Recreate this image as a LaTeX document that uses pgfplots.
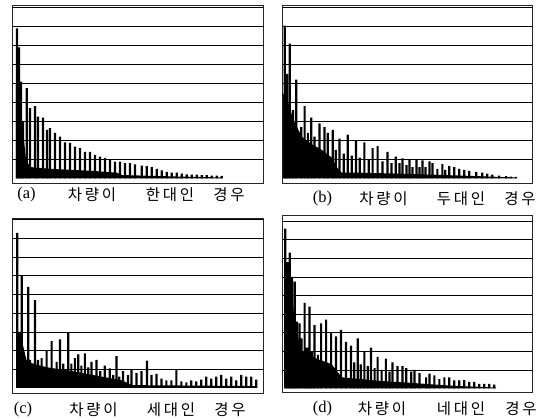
\documentclass[border=0pt]{standalone}
\usepackage{pgfplots}
\pgfplotsset{compat=1.18}
\usepackage{fontspec}
\setmainfont{Liberation Serif}
\newfontfamily\kr{Noto Sans CJK KR}[LetterSpace=18]
\pgfplotsset{
  panel/.style={
    scale only axis, xmin=0, xmax=251,
    xtick=\empty, ytick={1,...,9}, yticklabels={}, major tick length=0pt,
    ymajorgrids, grid style={black, line width=0.7pt},
    axis line style={black!85, line width=0.5pt},
    clip=true, anchor=south west,
  },
  spikes/.style={ybar, bar width=2.2pt, fill=black, draw=none},
  base/.style={fill=black, draw=none},
}
\newcommand{\krf}{\kr\fontsize{15.5}{18}\selectfont}
\newcommand{\pcap}[5]{%
  \node[font=\fontsize{16.5}{18}\selectfont] at (#1pt,#5pt) {(#2)};
  \node[font=\krf] at (#3pt,#5pt) {#4};
}
\begin{document}
\begin{tikzpicture}
\path[use as bounding box] (0pt,0pt) rectangle (550pt,420pt);
% (a)
\begin{axis}[panel, at={(12pt,237pt)}, width=251pt, height=178pt, ymin=-0.24, ymax=9.13]
\addplot[base] coordinates {(4,0) (4,5.0) (8,4.0) (11,2.5) (14,1.0) (18,0.6) (40,0.5) (80,0.4) (105,0.3) (110,0.18) (150,0.12) (210,0.05) (210,0)};
\addplot[spikes] coordinates {
(5,7.9) (7,6.9) (9,5.1) (11,3.0) (14.7,4.75) (18,3.7) (23,3.8) (26,3.25) (31,3.2) (35,2.55) (38,2.65)
(43,2.4) (48,2.2) (53,1.9) (58,1.87) (63,1.67) (68,1.6) (73,1.4) (78,1.4) (83,1.24) (88,1.15)
(93,1.08) (98,0.97) (103,0.88) (108,0.88) (113,0.8) (118,0.8) (123,0.74) (129.7,0.68) (134.7,0.65)
(139.7,0.6) (144.7,0.5) (149.7,0.42) (154.7,0.35) (159.7,0.3) (164.7,0.3) (169.7,0.25) (174.7,0.22)
(179.7,0.2) (184.7,0.2) (189.7,0.18) (194.7,0.17) (199.7,0.15) (204.7,0.15) (209.7,0.13)};
\end{axis}
% (b)
\begin{axis}[panel, at={(282pt,237pt)}, width=250pt, height=178pt, ymin=-0.24, ymax=9.13]
\addplot[base] coordinates {(1,0) (1,4.5) (6,4.0) (12,3.0) (20,2.2) (30,1.8) (40,1.5) (50,1.1) (55,0.6) (60,0.3) (80,0.3) (120,0.25) (180,0.15) (235,0.05) (235,0)};
\addplot[spikes] coordinates {
(2.7,8.05) (5,5.5) (7.7,7.1) (11,3.6) (14.3,5.2) (19.3,2.7) (22.7,3.8) (26,2.4) (29.3,3.2) (32.7,2.2)
(37.7,2.9) (42.7,2.7) (46,2.4) (51,2.55) (54,1.5) (57.7,2.1) (62,1.3) (66,2.3) (70,1.2) (74.3,2.0)
(78,1.1) (82.7,1.9) (87,1.0) (91,1.6) (96,1.7) (101,0.9) (106,1.4) (110,0.8) (114.3,1.15) (118,0.8)
(121,1.05) (125,0.7) (128,1.0) (131,0.6) (135,1.0) (138,0.6) (141,0.95) (144,0.6) (148,0.9)
(151,0.8) (156,0.5) (161,0.75) (164,0.45) (168,0.65) (173,0.6) (178,0.5) (183,0.45) (188,0.4)
(195,0.35) (201,0.3) (206,0.25) (211,0.2) (218,0.15) (225,0.12) (230,0.1) (235,0.08)};
\end{axis}
% (c)
\begin{axis}[panel, at={(12.5pt,27pt)}, width=250.5pt, height=175pt, ymin=-0.27, ymax=9.09]
\addplot[base] coordinates {(4,0) (4,2.6) (10,2.4) (14,1.5) (20,1.3) (35,1.1) (60,0.9) (90,0.6) (110,0.4) (120,0.15) (245,0.1) (245,0)};
\addplot[spikes] coordinates {
(4.8,8.3) (7,3.0) (9.2,6.0) (12.5,1.4) (15.8,5.4) (17.5,1.5) (20,1.3) (22.5,4.7) (25.5,1.5) (29.2,1.6)
(34.2,2.0) (39.2,2.5) (44.2,1.4) (47.5,2.6) (50.8,1.3) (55.8,2.95) (59,1.3) (62.5,1.6) (65.8,1.8)
(69,1.2) (72.5,1.85) (76,1.1) (79.2,1.4) (84.2,1.5) (88,0.9) (92.5,1.2) (97.5,1.05) (101,0.7)
(104.2,1.7) (107,0.6) (110.8,0.9) (115.8,0.7) (119.2,0.96) (124.2,0.8) (129.2,0.9) (134.8,1.46)
(139.2,0.7) (144.2,0.75) (149.2,0.5) (154.2,0.4) (159.2,0.4) (164.2,1.0) (169.2,0.35) (174.2,0.3)
(179.2,0.4) (184.2,0.35) (189.2,0.45) (194.2,0.6) (199.2,0.5) (204.2,0.6) (209.2,0.7) (214.2,0.5)
(219.2,0.6) (224.2,0.4) (229.2,0.7) (234.2,0.6) (239.2,0.6) (244.2,0.45)};
\end{axis}
% (d)
\begin{axis}[panel, at={(282pt,28pt)}, width=250pt, height=177pt, ymin=-0.19, ymax=9.33]
\addplot[base] coordinates {(3,0) (3,6.5) (9,6.0) (12,4.0) (15,3.0) (20,2.0) (35,1.6) (50,1.3) (60,0.6) (80,0.5) (100,0.4) (130,0.3) (170,0.15) (215,0.05) (215,0)};
\addplot[spikes] coordinates {
(3.3,8.6) (5.5,6.8) (7.7,7.3) (10,6.0) (12.7,5.75) (15,3.6) (17.7,3.5) (19.5,2.7) (22.7,4.6) (25,2.2)
(27.7,4.4) (30,2.0) (32.7,3.4) (36,1.8) (39.3,3.5) (44.3,3.7) (49.3,3.0) (54.3,2.8) (59.3,3.15)
(64.3,2.5) (69.3,2.3) (72.5,1.4) (76,2.7) (79,1.3) (82.7,2.0) (86,1.2) (89.3,2.2) (93,1.1) (96,1.7)
(100,1.0) (104.3,1.6) (108,0.9) (111,1.4) (116,1.2) (121,1.2) (124.7,1.1) (129.7,0.9) (133,1.0)
(138,0.82) (144.7,0.6) (148,0.8) (153,0.7) (158,0.5) (163,0.6) (168,0.6) (173,0.43) (178,0.43)
(183,0.45) (188,0.35) (193,0.35) (198,0.25) (203,0.25) (208,0.25) (213,0.2)};
\end{axis}
% captions
\pcap{26.5}{a}{92}{차량이}{225}
\node[font=\krf] at (170pt,225pt) {한대인};
\node[font=\krf] at (229pt,225pt) {경우};
\pcap{322.5}{b}{383.5}{차량이}{221.5}
\node[font=\krf] at (461pt,221.5pt) {두대인};
\node[font=\krf] at (520pt,221.5pt) {경우};
\pcap{23}{c}{93.5}{차량이}{10}
\node[font=\krf] at (171pt,10pt) {세대인};
\node[font=\krf] at (230pt,10pt) {경우};
\pcap{322.5}{d}{382}{차량이}{11}
\node[font=\krf] at (461pt,11pt) {네대인};
\node[font=\krf] at (521pt,11pt) {경우};
\end{tikzpicture}
\end{document}
